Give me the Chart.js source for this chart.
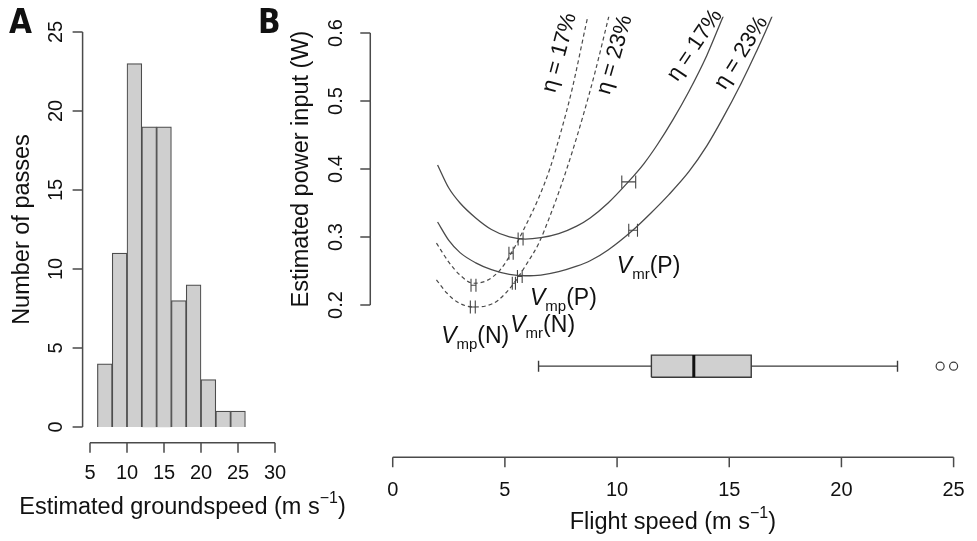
<!DOCTYPE html>
<html><head><meta charset="utf-8">
<script src="https://cdn.jsdelivr.net/npm/chart.js@4.4.1/dist/chart.umd.min.js"></script>
<style>
html,body{margin:0;padding:0;background:#fff;overflow:hidden;}
#wrap{position:relative;width:977px;height:541px;background:#fff;}
canvas{position:absolute;left:0;top:0;}
</style></head><body>
<div id="wrap"><canvas id="cB" width="977" height="541"></canvas><canvas id="cA" width="977" height="541"></canvas></div>
<script>
// ---------- Panel A data ----------
const histBreaks = [6, 8, 10, 12, 14, 16, 18, 20, 22, 24, 26];
const histCounts = [4, 11, 23, 19, 19, 8, 9, 3, 1, 1];
const histXTicks = [5, 10, 15, 20, 25, 30];
const histYTicks = [0, 5, 10, 15, 20, 25];

// ---------- Panel B data ----------
const speedTicks = [0, 5, 10, 15, 20, 25];
const powerTicks = ["0.2", "0.3", "0.4", "0.5", "0.6"];

// solid curves (P), eta = 17% and 23%
const p17Speed = [2.0, 2.5, 3.0, 3.7, 4.4, 5.2, 5.9, 6.6, 7.4, 8.2, 8.8, 9.6, 10.5, 11.2, 11.8, 12.5, 13.2, 14.0, 14.7, 15.0];
const p17Power = [0.406, 0.372, 0.350, 0.328, 0.311, 0.300, 0.297, 0.299, 0.305, 0.316, 0.328, 0.350, 0.381, 0.408, 0.436, 0.473, 0.514, 0.567, 0.622, 0.645];
const p23Speed = [2.0, 2.5, 3.0, 3.7, 4.4, 5.2, 5.9, 6.6, 7.4, 8.2, 8.8, 9.6, 10.7, 11.5, 12.3, 13.2, 14.0, 14.7, 15.5, 16.2, 16.9, 17.2];
const p23Power = [0.322, 0.295, 0.277, 0.262, 0.252, 0.245, 0.243, 0.244, 0.249, 0.257, 0.265, 0.281, 0.310, 0.335, 0.362, 0.396, 0.434, 0.474, 0.524, 0.572, 0.624, 0.650];
// dashed curves (N), eta = 17% and 23%
const n17Speed = [1.95, 2.5, 3.0, 3.6, 4.2, 4.8, 5.3, 5.9, 6.5, 7.0, 7.5, 8.0, 8.6, 8.9];
const n17Power = [0.291, 0.263, 0.244, 0.232, 0.236, 0.252, 0.277, 0.315, 0.357, 0.400, 0.455, 0.518, 0.610, 0.655];
const n23Speed = [1.95, 2.4, 2.9, 3.6, 4.2, 4.7, 5.4, 6.0, 6.5, 7.0, 7.5, 8.0, 8.5, 9.0, 9.6, 9.9];
const n23Power = [0.237, 0.218, 0.204, 0.197, 0.199, 0.207, 0.232, 0.262, 0.290, 0.330, 0.375, 0.425, 0.480, 0.540, 0.620, 0.660];

// characteristic speeds with error ranges
const markerLow   = [5.59, 5.56, 10.21, 10.52, 3.49, 3.46, 5.18, 5.33];
const markerHigh  = [5.81, 5.77, 10.83, 10.91, 3.71, 3.68, 5.37, 5.47];
const markerPower = [0.297, 0.242, 0.381, 0.310, 0.229, 0.197, 0.276, 0.232];

// flight speed boxplot
const boxStats = { whiskerLow: 6.5, q1: 11.53, median: 13.42, q3: 15.98, whiskerHigh: 22.5 };
const boxOutliers = [24.4, 25.0];
const boxLevel = 0.110, boxHalf = 0.0163;

// ---------- style ----------
const FONT = '"Liberation Sans", Arial, Helvetica, sans-serif';
const AXIS = '#4a4a4a';
const INK = '#111';
const CURVE = '#4a4a4a';

function pts(xs, ys) { return xs.map((x, i) => ({ x: x, y: ys[i] })); }

function richWidth(ctx, parts) {
  let w = 0;
  parts.forEach(p => { ctx.font = p.font; w += ctx.measureText(p.t).width; });
  return w;
}
function drawRich(ctx, parts, x, y) {
  let cx = x;
  parts.forEach(p => {
    ctx.font = p.font;
    ctx.fillText(p.t, cx, y + (p.dy || 0));
    cx += ctx.measureText(p.t).width;
  });
}
function unitParts(prefix, size) {
  return [
    { t: prefix + ' (m s', font: size + 'px ' + FONT },
    { t: '\u22121', font: Math.round(size * 0.68) + 'px ' + FONT, dy: -size * 0.38 },
    { t: ')', font: size + 'px ' + FONT }
  ];
}

function drawXAxis(chart, ticks, labelY, labels) {
  const s = chart.scales.x, ctx = chart.ctx, y = chart.chartArea.bottom;
  ctx.save();
  ctx.strokeStyle = AXIS; ctx.lineWidth = 1.5;
  ctx.beginPath();
  ctx.moveTo(s.getPixelForValue(ticks[0]), y);
  ctx.lineTo(s.getPixelForValue(ticks[ticks.length - 1]), y);
  ticks.forEach(t => { const px = s.getPixelForValue(t); ctx.moveTo(px, y); ctx.lineTo(px, y + 10); });
  ctx.stroke();
  ctx.fillStyle = INK; ctx.font = '20px ' + FONT; ctx.textAlign = 'center'; ctx.textBaseline = 'middle';
  ticks.forEach((t, i) => ctx.fillText(labels ? labels[i] : String(t), s.getPixelForValue(t), labelY));
  ctx.restore();
}
function drawYAxis(chart, ticks, labelX, labels) {
  const s = chart.scales.y, ctx = chart.ctx, x = chart.chartArea.left;
  ctx.save();
  ctx.strokeStyle = AXIS; ctx.lineWidth = 1.5;
  ctx.beginPath();
  ctx.moveTo(x, s.getPixelForValue(ticks[0]));
  ctx.lineTo(x, s.getPixelForValue(ticks[ticks.length - 1]));
  ticks.forEach(t => { const py = s.getPixelForValue(t); ctx.moveTo(x, py); ctx.lineTo(x - 10, py); });
  ctx.stroke();
  ctx.fillStyle = INK; ctx.font = '20px ' + FONT; ctx.textAlign = 'center'; ctx.textBaseline = 'middle';
  ticks.forEach((t, i) => {
    ctx.save(); ctx.translate(labelX, s.getPixelForValue(t)); ctx.rotate(-Math.PI / 2);
    ctx.fillText(labels ? labels[i] : String(t), 0, 0); ctx.restore();
  });
  ctx.restore();
}

// ---------- Chart A ----------
const axesA = {
  id: 'axesA',
  afterDraw(chart) {
    const ctx = chart.ctx, ca = chart.chartArea;
    drawXAxis(chart, histXTicks, 473);
    drawYAxis(chart, histYTicks, 56);
    ctx.save();
    ctx.fillStyle = INK; ctx.textBaseline = 'middle';
    ctx.font = '23.5px ' + FONT; ctx.textAlign = 'center';
    ctx.save(); ctx.translate(23, (ca.top + ca.bottom) / 2); ctx.rotate(-Math.PI / 2);
    ctx.fillText('Number of passes', 0, 0); ctx.restore();
    const parts = unitParts('Estimated groundspeed', 23.5);
    ctx.textAlign = 'left';
    const w = richWidth(ctx, parts);
    drawRich(ctx, parts, (ca.left + ca.right) / 2 - w / 2, 508);
    ctx.font = 'bold 33px "Liberation Sans Narrow", "DejaVu Sans Condensed", ' + FONT;
    ctx.textAlign = 'left'; ctx.textBaseline = 'alphabetic';
    ctx.fillText('A', 9, 33);
    ctx.restore();
  }
};

new Chart(document.getElementById('cA'), {
  type: 'bar',
  data: {
    datasets: [{
      data: histCounts.map((c, i) => ({ x: (histBreaks[i] + histBreaks[i + 1]) / 2, y: c })),
      backgroundColor: '#cfcfcf',
      borderColor: '#4d4d4d',
      borderWidth: 1.2,
      barPercentage: 1,
      categoryPercentage: 1
    }]
  },
  options: {
    responsive: false, animation: false, events: [],
    layout: { padding: { left: 82.6, right: 694.6, top: 16.2, bottom: 98.2 } },
    plugins: { legend: { display: false }, tooltip: { enabled: false } },
    scales: {
      x: { type: 'linear', min: 4, max: 31, offset: false, display: false },
      y: { type: 'linear', min: -1, max: 26, display: false }
    }
  },
  plugins: [axesA]
});

// ---------- Chart B ----------
const etaLabels = [
  { t: '\u03b7 = 17%', x: 7.44, y: 0.571, a: -75 },
  { t: '\u03b7 = 23%', x: 9.90, y: 0.568, a: -74 },
  { t: '\u03b7 = 17%', x: 13.47, y: 0.582, a: -56 },
  { t: '\u03b7 = 23%', x: 15.54, y: 0.571, a: -58 }
];
const vLabels = [
  { sub: 'mr', tail: '(P)', x: 9.99, y: 0.247 },
  { sub: 'mp', tail: '(P)', x: 6.12, y: 0.200 },
  { sub: 'mr', tail: '(N)', x: 5.24, y: 0.160 },
  { sub: 'mp', tail: '(N)', x: 2.16, y: 0.144 }
];

const axesB = {
  id: 'axesB',
  afterDraw(chart) {
    const ctx = chart.ctx, ca = chart.chartArea, sx = chart.scales.x, sy = chart.scales.y;
    drawXAxis(chart, speedTicks, 490);
    drawYAxis(chart, powerTicks.map(Number), 336, powerTicks);
    ctx.save();
    ctx.fillStyle = INK; ctx.textBaseline = 'middle'; ctx.textAlign = 'center';
    ctx.font = '23.5px ' + FONT;
    ctx.save(); ctx.translate(302, (sy.getPixelForValue(0.2) + sy.getPixelForValue(0.6)) / 2); ctx.rotate(-Math.PI / 2);
    ctx.fillText('Estimated power input (W)', 0, 0); ctx.restore();
    const parts = unitParts('Flight speed', 23.5);
    ctx.textAlign = 'left';
    const w = richWidth(ctx, parts);
    drawRich(ctx, parts, (ca.left + ca.right + 6) / 2 - w / 2, 523);
    ctx.textAlign = 'center'; ctx.textBaseline = 'middle';
    ctx.font = '22px ' + FONT;
    etaLabels.forEach(l => {
      ctx.save(); ctx.translate(sx.getPixelForValue(l.x), sy.getPixelForValue(l.y));
      ctx.rotate(l.a * Math.PI / 180); ctx.fillText(l.t, 0, 0); ctx.restore();
    });
    ctx.textAlign = 'left'; ctx.textBaseline = 'alphabetic';
    vLabels.forEach(l => {
      drawRich(ctx, [
        { t: 'V', font: 'italic 23px ' + FONT },
        { t: l.sub, font: '15px ' + FONT, dy: 6 },
        { t: l.tail, font: '23px ' + FONT }
      ], sx.getPixelForValue(l.x), sy.getPixelForValue(l.y));
    });
    ctx.font = 'bold 33px "Liberation Sans Narrow", "DejaVu Sans Condensed", ' + FONT;
    ctx.fillText('B', 258, 33);
    ctx.restore();
  }
};

const curveStyle = { showLine: true, pointRadius: 0, borderColor: CURVE, borderWidth: 1.3, cubicInterpolationMode: 'monotone', fill: false };
const datasetsB = [];
markerPower.forEach((p, i) => {
  datasetsB.push({
    data: [{ x: markerLow[i], y: p }, { x: markerHigh[i], y: p }],
    showLine: true, borderColor: '#444', borderWidth: 1.1,
    pointStyle: 'line', rotation: 90, pointRadius: 6.5, pointBorderColor: '#444', pointBorderWidth: 1.1, fill: false
  });
});
datasetsB.push(Object.assign({ data: pts(p17Speed, p17Power) }, curveStyle));
datasetsB.push(Object.assign({ data: pts(p23Speed, p23Power) }, curveStyle));
datasetsB.push(Object.assign({ data: pts(n17Speed, n17Power), borderDash: [4, 3] }, curveStyle, { borderWidth: 1.2 }));
datasetsB.push(Object.assign({ data: pts(n23Speed, n23Power), borderDash: [4, 3] }, curveStyle, { borderWidth: 1.2 }));
datasetsB.push({
  data: [{ x: boxStats.median, y: boxLevel - boxHalf }, { x: boxStats.median, y: boxLevel + boxHalf }],
  showLine: true, pointRadius: 0, borderColor: '#111', borderWidth: 3, fill: false
});
datasetsB.push({
  data: [{ x: boxStats.q1, y: boxLevel - boxHalf }, { x: boxStats.q3, y: boxLevel - boxHalf },
         { x: boxStats.q3, y: boxLevel + boxHalf }, { x: boxStats.q1, y: boxLevel + boxHalf },
         { x: boxStats.q1, y: boxLevel - boxHalf }],
  showLine: true, pointRadius: 0, borderColor: '#3a3a3a', borderWidth: 1.4, fill: false, tension: 0
});
datasetsB.push({
  data: [{ x: boxStats.whiskerLow, y: boxLevel }, { x: boxStats.q1, y: boxLevel }],
  showLine: true, borderColor: '#3a3a3a', borderWidth: 1.3, pointStyle: 'line', rotation: 90,
  pointRadius: [5.5, 0], pointBorderColor: '#3a3a3a', pointBorderWidth: 1.4, fill: false
});
datasetsB.push({
  data: [{ x: boxStats.q3, y: boxLevel }, { x: boxStats.whiskerHigh, y: boxLevel }],
  showLine: true, borderColor: '#3a3a3a', borderWidth: 1.3, pointStyle: 'line', rotation: 90,
  pointRadius: [0, 5.5], pointBorderColor: '#3a3a3a', pointBorderWidth: 1.4, fill: false
});
datasetsB.push({
  data: boxOutliers.map(v => ({ x: v, y: boxLevel })),
  showLine: false, pointStyle: 'circle', pointRadius: 4, pointBackgroundColor: '#fff',
  pointBorderColor: '#3a3a3a', pointBorderWidth: 1.2
});
const boxBottomIndex = datasetsB.length;
datasetsB.push({
  data: [{ x: boxStats.q1, y: boxLevel - boxHalf }, { x: boxStats.q3, y: boxLevel - boxHalf }],
  showLine: true, pointRadius: 0, borderWidth: 0, borderColor: 'rgba(0,0,0,0)', fill: false
});
datasetsB.push({
  data: [{ x: boxStats.q1, y: boxLevel + boxHalf }, { x: boxStats.q3, y: boxLevel + boxHalf }],
  showLine: true, pointRadius: 0, borderWidth: 0, borderColor: 'rgba(0,0,0,0)',
  fill: boxBottomIndex, backgroundColor: '#d0d0d0'
});

new Chart(document.getElementById('cB'), {
  type: 'scatter',
  data: { datasets: datasetsB },
  options: {
    responsive: false, animation: false, events: [],
    layout: { padding: { left: 370.28, right: 0, top: 16.68, bottom: 83.7 } },
    plugins: { legend: { display: false }, tooltip: { enabled: false } },
    scales: {
      x: { type: 'linear', min: -1, max: 25.704, display: false },
      y: { type: 'linear', min: -0.024, max: 0.624, display: false }
    }
  },
  plugins: [axesB]
});
</script>
</body></html>
